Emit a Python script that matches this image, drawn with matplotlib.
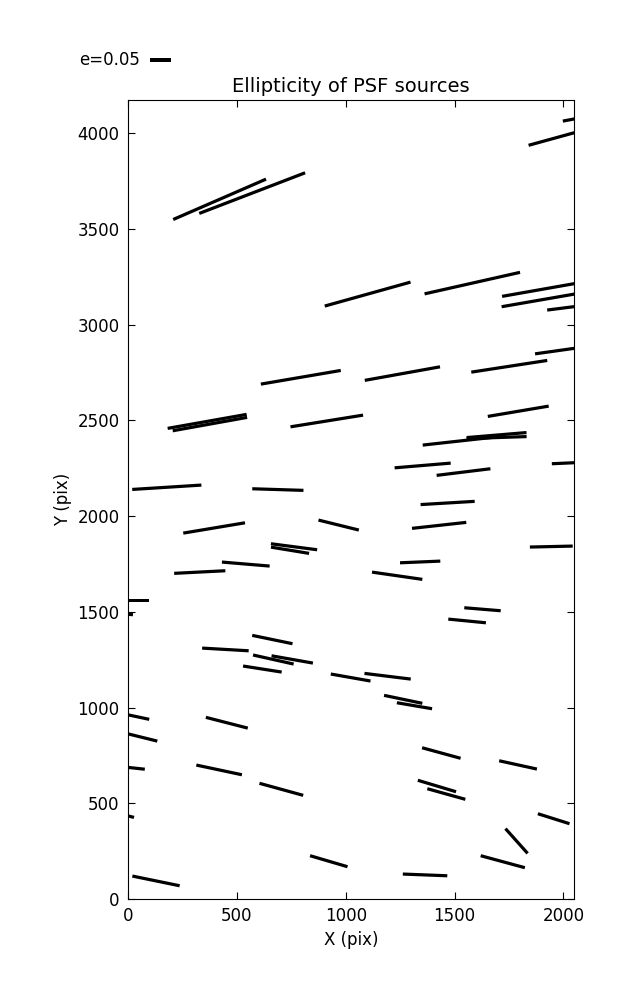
import numpy as np
import matplotlib
matplotlib.use('Agg')
import matplotlib.pyplot as plt

# Positionen der PSF-Quellen (pix), Elliptizitaet und Winkel (Grad)
x_src = [420.6, 570.2, 2087, 1995, 1100.5, 1581.2, 1944, 1942, 2016, 2006,
         793.6, 1260.1, 1750.9, 363.3, 376.1, 912.8, 1792.2, 1541.3, 1692.7, 1692.7,
         178.0, 688.1, 1353.2, 1540.8, 2038, 1467.9, 395.4, 967.4, 762.4, 744.0,
         540.8, 329.4, 0, -60, 662.8, 447.2, 667.4, 754.1, 617.0, 1022.5,
         1428.9, 1944.0, 1341.7, 1236.2, 1628.0, 1557.3, 1192.2, 1263.8, 1315.6, 7.8,
         453.7, 23, -5.5, 418.3, 704.1, -39, 128.4, 922.0, 1439.0, 1791.3,
         1418.8, 1461.9, 1955.0, 1784.4, 1721.1, 1364.2]
y_src = [3654.3, 3686.7, 4082, 3985, 3159.3, 3216.7, 3192.7, 3138, 3089, 2869,
         2724.8, 2744.1, 2782.2, 2494.5, 2480.4, 2496.6, 2547.3, 2394.3, 2423.0, 2409.9,
         2150.4, 2138.4, 2264.2, 2229.8, 2278, 2068.4, 1937.9, 1953.0, 1839.7, 1821.4,
         1749.3, 1707.6, 1561, 1493, 1355.1, 1303.4, 1250.7, 1251.2, 1201.0, 1156.7,
         1951.4, 1840.7, 1760.3, 1688.3, 1513.3, 1452.2, 1163.4, 1042.8, 1009.4, 960,
         920.6, 856, 688, 674.2, 572.8, 445, 94.5, 197.4, 762.4, 700.3,
         590.1, 548.3, 419.3, 302.9, 194.8, 125.8]
e_src = [0.241, 0.270, 0.095, 0.167, 0.212, 0.233, 0.238, 0.238, 0.095, 0.143,
         0.193, 0.182, 0.183, 0.191, 0.180, 0.175, 0.147, 0.196, 0.143, 0.143,
         0.165, 0.122, 0.134, 0.129, 0.095, 0.129, 0.149, 0.099, 0.111, 0.092,
         0.114, 0.122, 0.100, 0.086, 0.098, 0.111, 0.099, 0.100, 0.093, 0.096,
         0.130, 0.102, 0.096, 0.121, 0.087, 0.090, 0.111, 0.093, 0.085, 0.095,
         0.103, 0.119, 0.086, 0.111, 0.108, 0.071, 0.115, 0.093, 0.095, 0.092,
         0.095, 0.094, 0.079, 0.079, 0.109, 0.106]
theta_deg = [23.5, 21.0, 10.6, 15.4, 15.6, 12.7, 10.0, 9.85, 7.2, 8.0,
             9.7, 10.2, 8.75, 10.05, 10.2, 9.15, 9.6, 6.3, 4.8, 1.9,
             3.6, -1.8, 4.8, 7.0, 2.6, 3.4, 9.5, -13.9, -7.4, -9.3,
             -4.8, 2.9, 0.0, -5.0, -11.7, -3.3, -12.6, -10.0, -8.9, -10.0,
             6.3, 1.3, 2.4, -8.2, -4.7, -5.6, -7.0, -11.8, -9.7, -12.0,
             -14.4, -13.9, -6.2, -12.0, -15.4, -14.0, -11.6, -16.4, -15.3, -12.4,
             -16.7, -15.6, -17.5, -48.2, -15.2, -2.2]

x_src = np.array(x_src)
y_src = np.array(y_src)
e_src = np.array(e_src)
th = np.radians(theta_deg)
u = e_src * np.cos(th)
v = e_src * np.sin(th)

plt.rcParams['font.size'] = 12

fig = plt.figure(figsize=(6.37, 10), dpi=100)
ax = fig.add_axes([0.201, 0.101, 0.7, 0.799])

# Stäbchen ohne Pfeilspitze, zentriert auf der Quelle
q = ax.quiver(x_src, y_src, u, v, pivot='middle', angles='uv',
              scale_units='inches', scale=1 / 4.2,
              units='inches', width=0.032,
              headwidth=0, headlength=0, headaxislength=0, color='k')
ax.quiverkey(q, 0.236, 0.94, 0.05, 'e=0.05', labelpos='W',
             coordinates='figure', fontproperties={'size': 12})

ax.set_xlim(0, 2048)
ax.set_ylim(0, 4173)
ax.set_xticks([0, 500, 1000, 1500, 2000])
ax.set_yticks(np.arange(0, 4001, 500))
ax.tick_params(direction='in', top=True, right=True, length=5, pad=6)
ax.set_xlabel('X (pix)')
ax.set_ylabel('Y (pix)')
ax.set_title('Ellipticity of PSF sources', fontsize=14)

fig.savefig('out.png', dpi=100)
